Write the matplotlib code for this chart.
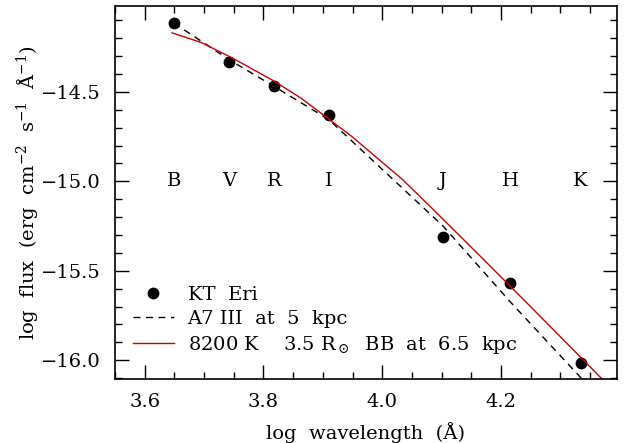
import matplotlib
matplotlib.use("Agg")
import matplotlib.pyplot as plt
from matplotlib.ticker import MultipleLocator, FuncFormatter

plt.rcParams['font.family'] = ['DejaVu Serif']
plt.rcParams['mathtext.fontset'] = 'dejavuserif'

# KT Eri photometry
bands = ['B', 'V', 'R', 'I', 'J', 'H', 'K']
logwav = [3.649, 3.742, 3.818, 3.910, 4.102, 4.215, 4.334]
logflux = [-14.113, -14.331, -14.465, -14.632, -15.314, -15.566, -16.015]

# A7 III template at 5 kpc
a7_x = [3.649, 3.742, 3.818, 3.910, 4.102, 4.215, 4.336]
a7_y = [-14.115, -14.320, -14.470, -14.655, -15.249, -15.672, -16.104]

# 8200 K blackbody
bb_x = [3.646, 3.695, 3.746, 3.819, 3.864, 3.949, 4.034, 4.085, 4.170,
        4.254, 4.370]
bb_y = [-14.170, -14.224, -14.308, -14.442, -14.537, -14.750, -14.990,
        -15.155, -15.435, -15.715, -16.105]

fig = plt.figure(figsize=(6.25, 4.43), dpi=100)
ax = fig.add_axes([0.184, 0.1445, 0.803, 0.842])

ax.plot(logwav, logflux, 'o', color='black', ms=7.5, label='KT  Eri')
ax.plot(a7_x, a7_y, color='black', lw=1, dashes=(5, 4), label='A7 III  at  5  kpc')
ax.plot(bb_x, bb_y, color='#cc0000', lw=1,
        label=r'8200 K    3.5 R$_\odot$  BB  at  6.5  kpc')

for b, x in zip(bands, logwav):
    ax.text(x, -15.0, b, ha='center', va='center', fontsize=14)

fmt = FuncFormatter(lambda v, p: ('%.1f' % v).replace('-', '\u2212'))
ax.set_xlim(3.55, 4.395)
ax.set_ylim(-16.105, -14.02)
ax.xaxis.set_major_locator(MultipleLocator(0.2))
ax.xaxis.set_minor_locator(MultipleLocator(0.05))
ax.yaxis.set_major_locator(MultipleLocator(0.5))
ax.yaxis.set_minor_locator(MultipleLocator(0.1))
ax.xaxis.set_major_formatter(fmt)
ax.yaxis.set_major_formatter(fmt)
ax.tick_params(which='both', direction='in', top=True, right=True, width=1)
ax.tick_params(which='major', length=10, labelsize=14)
ax.tick_params(axis='x', which='major', pad=10)
ax.tick_params(axis='y', which='major', pad=10)
ax.tick_params(which='minor', length=4.7)
for s in ax.spines.values():
    s.set_linewidth(1.2)

ax.set_xlabel('log  wavelength  (Å)', fontsize=14, labelpad=8)
ax.set_ylabel('log  flux  (erg  cm$^{-2}$  s$^{-1}$  Å$^{-1}$)', fontsize=14, labelpad=0)

ax.legend(loc='lower left', frameon=False, fontsize=14, handlelength=2.1,
          handletextpad=0.7, labelspacing=0.3, borderaxespad=0.4,
          bbox_to_anchor=(0.005, 0.02))

fig.savefig('out.png', dpi=100)
